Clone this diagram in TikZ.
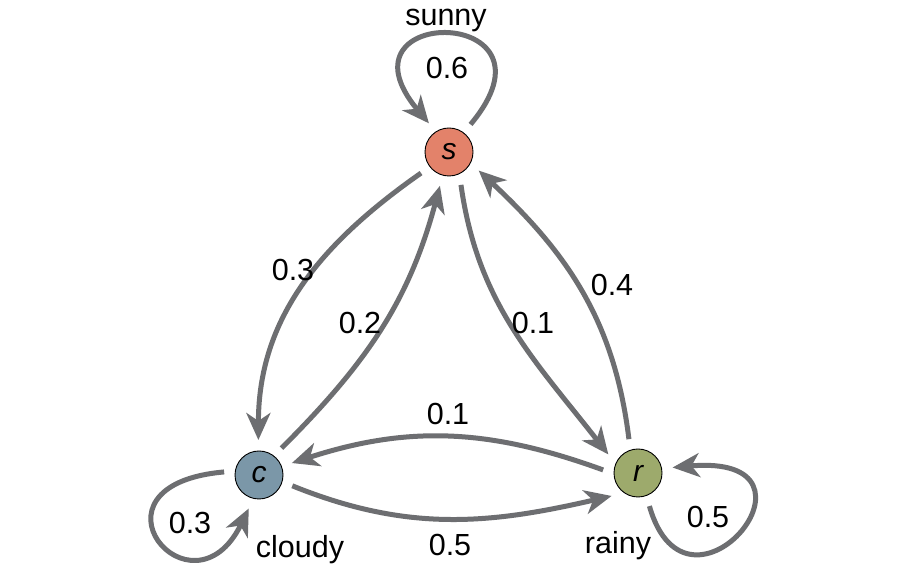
\documentclass[tikz,border=0pt]{standalone}
\usepackage{fontspec}
\setmainfont{Liberation Sans}
\usetikzlibrary{arrows.meta}
\definecolor{edgegray}{HTML}{6D6E71}
\definecolor{sunnyfill}{HTML}{E3826A}
\definecolor{cloudyfill}{HTML}{7B97A8}
\definecolor{rainyfill}{HTML}{9DAA6C}
\begin{document}
\begin{tikzpicture}[x=1pt,y=1pt,
  state/.style={circle, draw=black, line width=0.9pt, minimum size=48pt,
    inner sep=0pt, outer sep=11pt, font=\fontsize{30}{35}\selectfont\itshape},
  edge/.style={draw=edgegray, line width=5pt,
    -{Stealth[length=27pt,width=24pt,inset=8pt]}},
  lbl/.style={font=\fontsize{30.5}{35}\selectfont, inner sep=0pt}]
\fill[white] (0,0) rectangle (900,580);
\useasboundingbox (0,0) rectangle (900,580);

% states
\node[state, fill=sunnyfill]  (s) at (449,428) {s};
\node[state, fill=cloudyfill] (c) at (259,105) {c};
\node[state, fill=rainyfill]  (r) at (638,107) {r};

% transitions between states
\draw[edge] (s.217) to[out=215,in=90]  (c.91);
\draw[edge] (c.50)  to[out=45,in=255]  (s.255);
\draw[edge] (s.290) to[out=278,in=128] (r.148);
\draw[edge] (r.105) to[out=97,in=-43]  (s.-32);
\draw[edge] (r.175) to[out=160,in=18]  (c.20);
\draw[edge] (c.-18) to[out=-22,in=193] (r.221);

% self transitions
\draw[edge] (s.52)  .. controls +(50:156)  and +(130:156) .. (s.125);
\draw[edge] (c.175) .. controls +(185:150) and +(244:130) .. (c.253);
\draw[edge] (r.289) .. controls +(-74:140) and +(5:170)   .. (r.9);

% probabilities
\node[lbl] (p-ss) at (447,512) {0.6};
\node[lbl] (p-sc) at (293,310) {0.3};
\node[lbl] (p-cs) at (360,257) {0.2};
\node[lbl] (p-sr) at (533,257) {0.1};
\node[lbl] (p-rs) at (612,295) {0.4};
\node[lbl] (p-rc) at (448,166) {0.1};
\node[lbl] (p-cr) at (450,35)  {0.5};
\node[lbl] (p-cc) at (190,57)  {0.3};
\node[lbl] (p-rr) at (708,63)  {0.5};

% state names
\node[lbl] (n-s) at (446,560) {sunny};
\node[lbl] (n-c) at (300,30)  {cloudy};
\node[lbl] (n-r) at (618,34)  {rainy};
\end{tikzpicture}
\end{document}
